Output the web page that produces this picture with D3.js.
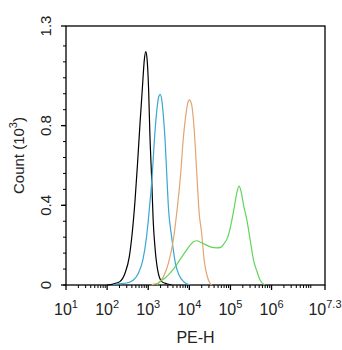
<!DOCTYPE html>
<html>
<head>
<meta charset="utf-8">
<script src="https://cdn.jsdelivr.net/npm/d3@7"></script>
<style>
  html, body { margin: 0; padding: 0; background: #fff; }
  svg { display: block; font-family: "Liberation Sans", Arial, sans-serif; }
</style>
</head>
<body>
<svg id="chart" width="342" height="350"></svg>
<script>
// Histogram overlays: [log10(PE-H), count in thousands]
const blackCounts = [
  [2.00, 0.000], [2.15, 0.005], [2.31, 0.017], [2.435, 0.059], [2.54, 0.142],
  [2.61, 0.260], [2.68, 0.427], [2.74, 0.610], [2.80, 0.810], [2.86, 0.995],
  [2.905, 1.130], [2.94, 1.171], [2.97, 1.138], [3.01, 0.979], [3.04, 0.760],
  [3.085, 0.527], [3.12, 0.326], [3.17, 0.176], [3.23, 0.075], [3.33, 0.017],
  [3.45, 0.006], [3.57, 0.000]
];
const blueCounts = [
  [2.15, 0.000], [2.23, 0.004], [2.48, 0.010], [2.64, 0.025], [2.76, 0.059],
  [2.87, 0.126], [2.96, 0.243], [3.04, 0.410], [3.10, 0.560], [3.15, 0.728],
  [3.21, 0.878], [3.255, 0.945], [3.29, 0.957], [3.33, 0.929], [3.37, 0.845],
  [3.41, 0.728], [3.45, 0.560], [3.49, 0.393], [3.57, 0.240], [3.66, 0.110],
  [3.75, 0.050], [3.87, 0.015], [4.02, 0.000]
];
const orangeCounts = [
  [3.08, 0.000], [3.12, 0.003], [3.245, 0.010], [3.37, 0.042], [3.49, 0.109],
  [3.61, 0.226], [3.71, 0.393], [3.79, 0.560], [3.85, 0.728], [3.91, 0.845],
  [3.96, 0.912], [4.00, 0.929], [4.05, 0.912], [4.10, 0.828], [4.145, 0.694],
  [4.19, 0.527], [4.24, 0.360], [4.30, 0.260], [4.36, 0.126], [4.44, 0.040],
  [4.50, 0.010], [4.54, 0.000]
];
const greenCounts = [
  [3.21, 0.000], [3.29, 0.017], [3.41, 0.035], [3.53, 0.060], [3.65, 0.090],
  [3.77, 0.126], [3.90, 0.166], [4.02, 0.200], [4.11, 0.218], [4.19, 0.222],
  [4.28, 0.213], [4.42, 0.200], [4.53, 0.190], [4.67, 0.186], [4.77, 0.190],
  [4.84, 0.206], [4.94, 0.243], [5.01, 0.300], [5.09, 0.387], [5.16, 0.467],
  [5.21, 0.497], [5.26, 0.467], [5.32, 0.400], [5.40, 0.326], [5.48, 0.226],
  [5.56, 0.126], [5.65, 0.065], [5.72, 0.025], [5.84, 0.000]
];
const seriesColors = ["#000000", "#3aa6d2", "#e2a472", "#62d45a"];

// Axis ticks
const xDecades = [1, 2, 3, 4, 5, 6];
const xEndLabel = "7.3";
const yLabeled = [0, 0.4, 0.8];
const yTopLabel = "1.3";
const yMinorStep = 0.08;

const svg = d3.select("#chart");
const margin = { left: 66, top: 26, right: 17, bottom: 65 };
const W = 342, H = 350;
const pw = W - margin.left - margin.right;
const ph = H - margin.top - margin.bottom;

const x = d3.scaleLinear().domain([1, 7.3]).range([margin.left, margin.left + pw]);
const y = d3.scaleLinear().domain([0, 1.3]).range([margin.top + ph, margin.top]);

// Plot frame
svg.append("rect")
  .attr("x", margin.left).attr("y", margin.top)
  .attr("width", pw).attr("height", ph)
  .attr("fill", "none").attr("stroke", "#000").attr("stroke-width", 1.3);

// Curves
const line = d3.line()
  .x(d => x(d[0]))
  .y(d => y(d[1]))
  .curve(d3.curveMonotoneX);

[blackCounts, blueCounts, orangeCounts, greenCounts].forEach((s, i) => {
  svg.append("path")
    .datum(s)
    .attr("d", line)
    .attr("fill", "none")
    .attr("stroke", seriesColors[i])
    .attr("stroke-width", 1.2)
    .attr("stroke-linejoin", "round");
});

// X axis ticks (log decades with minor ticks 2..9)
const xAxisY = margin.top + ph;
const minor = [];
xDecades.forEach(d => {
  for (let k = 2; k <= 9; k++) {
    const v = d + Math.log10(k);
    if (v < 7.3) minor.push(v);
  }
});
svg.append("g").selectAll("line.minor").data(minor).join("line")
  .attr("x1", d => x(d)).attr("x2", d => x(d))
  .attr("y1", xAxisY).attr("y2", xAxisY + 3)
  .attr("stroke", "#000").attr("stroke-width", 1);
svg.append("g").selectAll("line.major").data(xDecades.concat([7.3])).join("line")
  .attr("x1", d => x(d)).attr("x2", d => x(d))
  .attr("y1", xAxisY).attr("y2", xAxisY + 5)
  .attr("stroke", "#000").attr("stroke-width", 1.3);

const xLab = svg.append("g").selectAll("text")
  .data(xDecades.map(d => String(d)).concat([xEndLabel]))
  .join("text")
  .attr("x", (d, i) => x(i < xDecades.length ? xDecades[i] : 7.3))
  .attr("y", 315)
  .attr("text-anchor", "middle")
  .attr("font-size", 16)
  .attr("fill", "#222");
xLab.append("tspan").text("10");
xLab.append("tspan").attr("dy", -7).attr("font-size", 11).text(d => d);

svg.append("text")
  .attr("x", margin.left + pw / 2).attr("y", 343)
  .attr("text-anchor", "middle")
  .attr("font-size", 16)
  .attr("fill", "#222")
  .text("PE-H");

// Y axis ticks
const yMinor = d3.range(0, 1.2 + 1e-9, yMinorStep);
svg.append("g").selectAll("line").data(yMinor).join("line")
  .attr("x1", margin.left - 3).attr("x2", margin.left)
  .attr("y1", d => y(d)).attr("y2", d => y(d))
  .attr("stroke", "#000").attr("stroke-width", 1);
svg.append("g").selectAll("line").data(yLabeled.concat([1.3])).join("line")
  .attr("x1", margin.left - 5).attr("x2", margin.left)
  .attr("y1", d => y(d)).attr("y2", d => y(d))
  .attr("stroke", "#000").attr("stroke-width", 1.3);

const yLabels = yLabeled.map(v => ({ v, t: String(v) })).concat([{ v: 1.3, t: yTopLabel }]);
svg.append("g").selectAll("text").data(yLabels).join("text")
  .attr("transform", d => `translate(51,${y(d.v)}) rotate(-90)`)
  .attr("text-anchor", "middle")
  .attr("font-size", 15)
  .attr("fill", "#222")
  .text(d => d.t);

const yTitle = svg.append("text")
  .attr("transform", `translate(24,${margin.top + ph / 2}) rotate(-90)`)
  .attr("text-anchor", "middle")
  .attr("font-size", 15)
  .attr("fill", "#222");
yTitle.append("tspan").text("Count (10");
yTitle.append("tspan").attr("dy", -7).attr("font-size", 11).text("3");
yTitle.append("tspan").attr("dy", 7).text(")");
</script>
</body>
</html>
